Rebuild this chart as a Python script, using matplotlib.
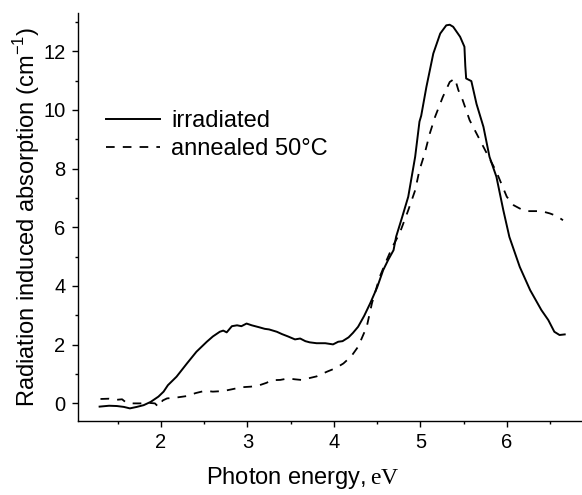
#!/usr/bin/env python3
# Radiation induced absorption spectra: irradiated vs annealed at 50 C
import numpy as np
import matplotlib
matplotlib.use('Agg')
import matplotlib.pyplot as plt
from matplotlib.ticker import MultipleLocator

plt.rcParams['font.family'] = ['Liberation Sans', 'DejaVu Sans']
plt.rcParams['mathtext.fontset'] = 'custom'
plt.rcParams['mathtext.rm'] = 'Liberation Serif'
plt.rcParams['mathtext.sf'] = 'Liberation Sans'

# irradiated (solid)
e_irr = [1.29, 1.40, 1.49, 1.57, 1.64, 1.72, 1.80, 1.88, 1.97, 2.03, 2.08, 2.18,
         2.30, 2.41, 2.53, 2.60, 2.68, 2.72, 2.76, 2.82, 2.88, 2.93, 2.99, 3.05,
         3.14, 3.20, 3.25, 3.34, 3.40, 3.47, 3.55, 3.61, 3.67, 3.72, 3.80, 3.90,
         3.99, 4.05, 4.10, 4.17, 4.22, 4.28, 4.35, 4.42, 4.50, 4.57, 4.63, 4.69,
         4.72, 4.79, 4.86, 4.94, 4.99, 5.01, 5.07, 5.15, 5.23, 5.30, 5.34, 5.38,
         5.46, 5.51, 5.52, 5.53, 5.59, 5.65, 5.73, 5.80, 5.88, 5.96, 6.03, 6.15,
         6.27, 6.40, 6.48, 6.55, 6.61, 6.67]
a_irr = [-0.11, -0.08, -0.09, -0.12, -0.17, -0.12, -0.06, 0.05, 0.23, 0.40, 0.62, 0.91,
         1.36, 1.76, 2.10, 2.28, 2.44, 2.48, 2.42, 2.63, 2.66, 2.63, 2.72, 2.66,
         2.59, 2.54, 2.52, 2.44, 2.36, 2.28, 2.18, 2.21, 2.12, 2.08, 2.05, 2.05,
         2.01, 2.10, 2.12, 2.25, 2.40, 2.61, 2.98, 3.41, 3.95, 4.54, 4.90, 5.22,
         5.68, 6.35, 7.04, 8.40, 9.60, 9.80, 10.78, 11.92, 12.60, 12.88, 12.90, 12.83,
         12.49, 12.15, 11.50, 11.07, 10.98, 10.20, 9.42, 8.40, 7.72, 6.58, 5.67, 4.65,
         3.86, 3.18, 2.84, 2.44, 2.33, 2.35]

# annealed 50 C (dashed)
e_ann = [1.30, 1.40, 1.48, 1.55, 1.60, 1.68, 1.76, 1.85, 1.93, 1.97, 2.02, 2.07,
         2.18, 2.30, 2.40, 2.51, 2.60, 2.72, 2.82, 2.93, 3.04, 3.14, 3.22, 3.28,
         3.38, 3.47, 3.55, 3.62, 3.70, 3.80, 3.92, 4.02, 4.11, 4.20, 4.28, 4.38,
         4.44, 4.53, 4.61, 4.68, 4.76, 4.86, 4.94, 4.99, 5.05, 5.11, 5.17, 5.26,
         5.34, 5.40, 5.44, 5.49, 5.57, 5.67, 5.77, 5.88, 6.00, 6.08, 6.15, 6.22,
         6.30, 6.40, 6.50, 6.58, 6.65]
a_ann = [0.15, 0.16, 0.12, 0.14, 0.02, 0.00, 0.00, 0.02, 0.00, -0.12, 0.10, 0.17,
         0.20, 0.25, 0.35, 0.43, 0.40, 0.42, 0.48, 0.55, 0.57, 0.62, 0.70, 0.79,
         0.80, 0.85, 0.82, 0.80, 0.85, 0.92, 1.08, 1.20, 1.36, 1.60, 1.93, 2.61,
         3.41, 4.31, 4.88, 5.35, 5.79, 6.58, 7.26, 7.95, 8.51, 9.20, 9.76, 10.44,
         10.95, 11.07, 10.67, 10.33, 9.65, 9.08, 8.51, 7.89, 7.04, 6.75, 6.64, 6.55,
         6.55, 6.55, 6.47, 6.38, 6.24]

fig = plt.figure(figsize=(5.82, 4.95), dpi=100)
ax = fig.add_axes([78/582, 74/495, 1 - 78/582, (421-13)/495])

ax.plot(e_irr, a_irr, color='black', lw=1.4, label='irradiated')
ax.plot(e_ann, a_ann, color='black', lw=1.3, linestyle=(0, (4.8, 4.5)), label='annealed 50°C')

ax.set_xlim(1.04, 6.87)
ax.set_ylim(-0.6, 13.3)
ax.xaxis.set_major_locator(MultipleLocator(1))
ax.xaxis.set_minor_locator(MultipleLocator(0.5))
ax.yaxis.set_major_locator(MultipleLocator(2))
ax.yaxis.set_minor_locator(MultipleLocator(1))
ax.set_xticks([2, 3, 4, 5, 6])

for s in ['top', 'right']:
    ax.spines[s].set_visible(False)
for s in ['left', 'bottom']:
    ax.spines[s].set_linewidth(1.0)
ax.tick_params(which='major', direction='out', length=4, width=1.0, labelsize=14.5, pad=5)
ax.tick_params(which='minor', direction='out', length=2.5, width=1.0)

ax.set_xlabel('Photon energy,$\\,\\mathrm{eV}$', fontsize=17, labelpad=9)
ax.xaxis.label.set_x(0.445)  # label sits left of the axes centre in the original
ax.set_ylabel('Radiation induced absorption (cm$^{\\mathsf{-1}}$)', fontsize=17, labelpad=1)

ax.legend(loc='upper left', bbox_to_anchor=(106/582, 1 - 110/495), bbox_transform=fig.transFigure,
          frameon=False, fontsize=17, handlelength=2.3, handletextpad=0.45,
          labelspacing=0.25, borderpad=0, borderaxespad=0)

fig.savefig('out.png', dpi=100)
